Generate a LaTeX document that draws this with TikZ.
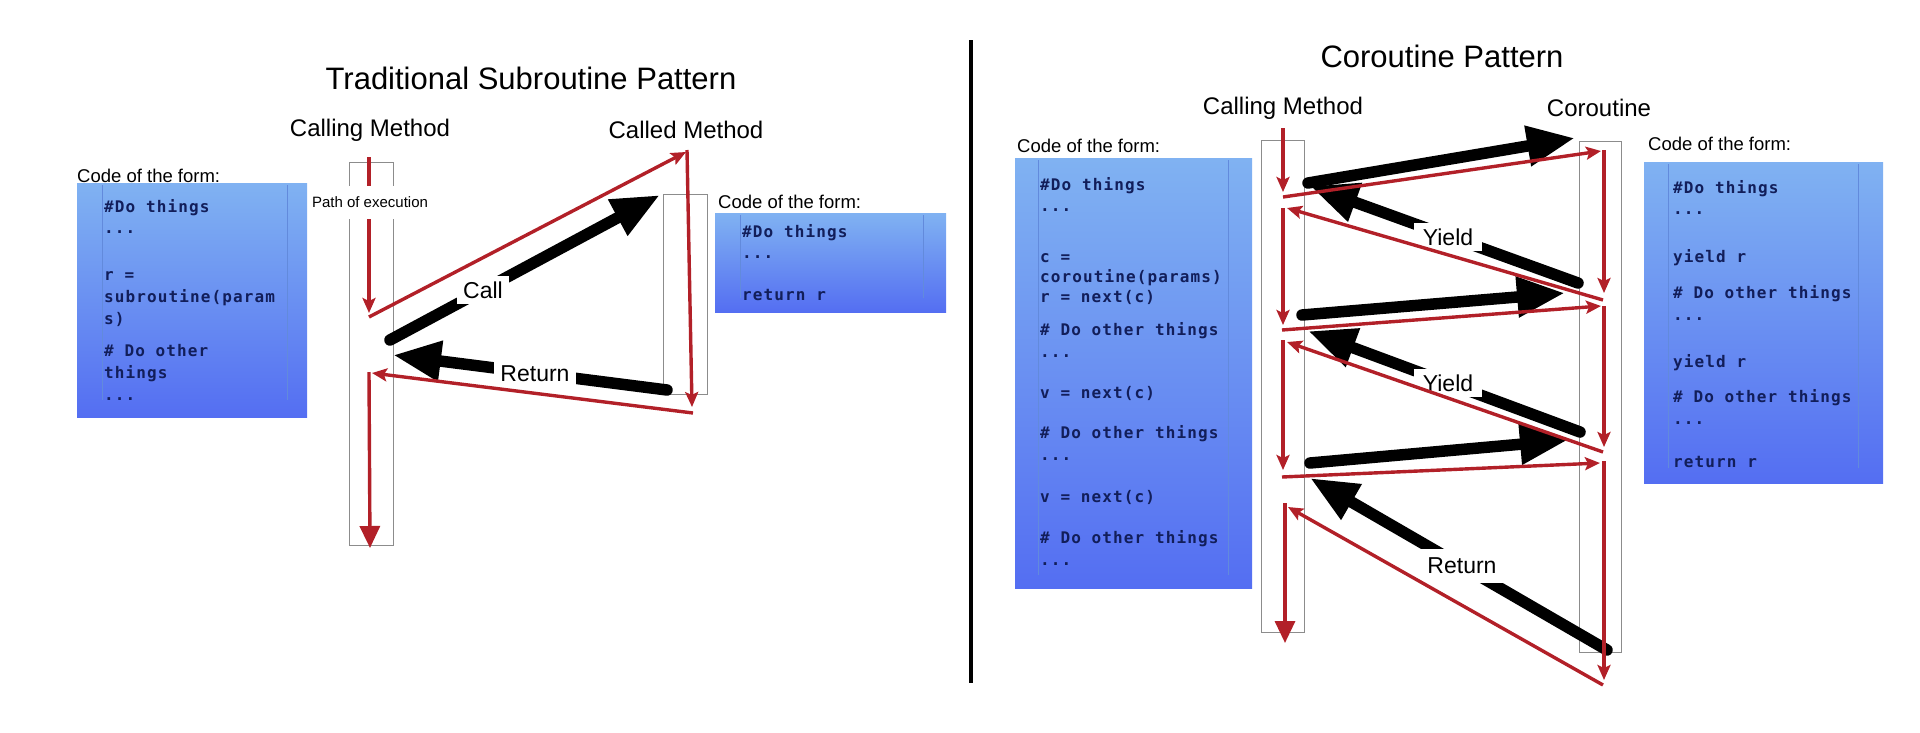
\documentclass[tikz,border=0pt]{standalone}
\usepackage{fontspec}
\setmainfont{Liberation Sans}
\newfontfamily\codefont{DejaVu Sans Mono}[LetterSpace=7]
\usetikzlibrary{arrows.meta}

\definecolor{rd}{RGB}{178,32,40}
\definecolor{codeblue}{RGB}{18,30,90}
\definecolor{boxtop}{RGB}{128,178,242}
\definecolor{boxbot}{RGB}{84,110,242}
\definecolor{cellline}{RGB}{98,138,220}
\definecolor{lanegray}{RGB}{140,140,140}

\tikzset{
  redarrow/.style={draw=rd, line width=3.4pt, -{Stealth[length=15pt,width=13pt,inset=3pt]}},
  redend/.style={draw=rd, line width=3.4pt, -{Triangle[length=22pt,width=20pt]}},
  bigarrow/.style={draw=black, line width=11.5pt, line cap=round, -{Triangle[length=48pt,width=38pt]}},
  lane/.style={draw=lanegray, line width=1pt, anchor=north west, inner sep=0pt},
  codebox/.style={anchor=north west, inner sep=0pt, top color=boxtop, bottom color=boxbot, draw=none},
  cellrule/.style={draw=cellline, line width=1pt},
  heading/.style={font=\fontsize{31}{37}\selectfont},
  colhead/.style={font=\fontsize{24}{29}\selectfont},
  arrowlabel/.style={font=\fontsize{23}{28}\selectfont, fill=white, inner xsep=6pt, inner ysep=6pt},
  formlabel/.style={font=\fontsize{18.5}{22}\selectfont, anchor=base west, inner sep=0pt},
  codeline/.style={font=\codefont\bfseries\fontsize{16}{19}\selectfont, text=codeblue, anchor=base west, inner sep=0pt},
  pathlabel/.style={font=\fontsize{15}{18}\selectfont, fill=white, inner xsep=2pt, minimum height=33pt},
  sep/.style={draw=black, line width=4pt}
}

\begin{document}
\begin{tikzpicture}[x=1pt,y=-1pt]
\useasboundingbox (0,0) rectangle (1920,732);

% ---------------- LEFT PANEL ----------------
\node[heading] (ltitle) at (531,78) {Traditional Subroutine Pattern};
\node[colhead] (lcallhead) at (370,130) {Calling Method};
\node[colhead] (lcalledhead) at (686,130) {Called Method};

% code box (calling)
\node[formlabel] (lform) at (77,182) {Code of the form:};
\node[codebox, minimum width=230pt, minimum height=234pt] (lbox) at (77,183) {};
\draw[cellrule] (102,185) -- (102,400);
\draw[cellrule] (287,185) -- (287,400);
\node[codeline] (l1) at (104,212) {\#Do things};
\node[codeline] (l2) at (104,233) {...};
\node[codeline] (l3) at (104,280) {r =};
\node[codeline] (l4) at (104,302) {subroutine(param};
\node[codeline] (l5) at (104,324) {s)};
\node[codeline] (l6) at (104,356) {\# Do other};
\node[codeline] (l7) at (104,378) {things};
\node[codeline] (l8) at (104,400) {...};

% code box (called)
\node[formlabel] (rform0) at (718,208) {Code of the form:};
\node[codebox, minimum width=231pt, minimum height=99pt] (cbox) at (715,213) {};
\draw[cellrule] (740,215) -- (740,298);
\draw[cellrule] (923,215) -- (923,298);
\node[codeline] (c1) at (742,237) {\#Do things};
\node[codeline] (c2) at (742,258) {...};
\node[codeline] (c3) at (742,300) {return r};

% lanes
\node[lane, minimum width=44pt, minimum height=383pt] (lcall) at (349,162) {};
\node[lane, minimum width=44pt, minimum height=200pt] (lcalled) at (663,194) {};

% black arrows
\coordinate (callS) at (390,340);
\coordinate (callE) at (660,195);
\coordinate (retS) at (667,390);
\coordinate (retE) at (393,355);
\draw[bigarrow] (callS) -- (callE);
\draw[bigarrow] (retS) -- (retE);
\node[arrowlabel] (calllab) at (483,290) {Call};
\node[arrowlabel] (retlab) at (535,374) {Return};

% red path
\coordinate (a0) at (369,157);
\coordinate (a1) at (369,313);
\coordinate (a2) at (369,317);
\coordinate (a3) at (686,152);
\coordinate (a3v) at (687,150);
\coordinate (a4) at (692,407);
\coordinate (a5) at (693,413);
\coordinate (a6) at (372,373);
\coordinate (a6v) at (369,372);
\coordinate (a7) at (370,548);
\draw[redarrow] (a0) -- (a1);
\draw[redarrow] (a2) -- (a3);
\draw[redarrow] (a3v) -- (a4);
\draw[redarrow] (a5) -- (a6);
\draw[redend] (a6v) -- (a7);
\node[pathlabel] (pathlab) at (370,202) {Path of execution};

% separator
\coordinate (sepT) at (971,40);
\coordinate (sepB) at (971,683);
\draw[sep] (sepT) -- (sepB);

% ---------------- RIGHT PANEL ----------------
\node[heading] (rtitle) at (1442,56) {Coroutine Pattern};
\node[colhead] (rcallhead) at (1283,108) {Calling Method};
\node[colhead] (cohead) at (1599,108) {Coroutine};

% calling code
\node[formlabel] (rform1) at (1017,152) {Code of the form:};
\node[codebox, minimum width=237pt, minimum height=430pt] (rbox) at (1015,158) {};
\draw[cellrule] (1038,160) -- (1038,575);
\draw[cellrule] (1228,160) -- (1228,575);
\node[codeline] (r1) at (1040,190) {\#Do things};
\node[codeline] (r2) at (1040,211) {...};
\node[codeline] (r3) at (1040,262) {c =};
\node[codeline] (r4) at (1040,282) {coroutine(params)};
\node[codeline] (r5) at (1040,302) {r = next(c)};
\node[codeline] (r6) at (1040,335) {\# Do other things};
\node[codeline] (r7) at (1040,357) {...};
\node[codeline] (r8) at (1040,398) {v = next(c)};
\node[codeline] (r9) at (1040,438) {\# Do other things};
\node[codeline] (r10) at (1040,460) {...};
\node[codeline] (r11) at (1040,502) {v = next(c)};
\node[codeline] (r12) at (1040,543) {\# Do other things};
\node[codeline] (r13) at (1040,565) {...};

% coroutine code
\node[formlabel] (rform2) at (1648,150) {Code of the form:};
\node[codebox, minimum width=239pt, minimum height=321pt] (kbox) at (1644,162) {};
\draw[cellrule] (1668,164) -- (1668,468);
\draw[cellrule] (1858,164) -- (1858,468);
\node[codeline] (k1) at (1673,193) {\#Do things};
\node[codeline] (k2) at (1673,214) {...};
\node[codeline] (k3) at (1673,262) {yield r};
\node[codeline] (k4) at (1673,298) {\# Do other things};
\node[codeline] (k5) at (1673,320) {...};
\node[codeline] (k6) at (1673,367) {yield r};
\node[codeline] (k7) at (1673,402) {\# Do other things};
\node[codeline] (k8) at (1673,424) {...};
\node[codeline] (k9) at (1673,467) {return r};

% lanes
\node[lane, minimum width=43pt, minimum height=492pt] (rcall) at (1261,140) {};
\node[lane, minimum width=42pt, minimum height=511pt] (rco) at (1579,141) {};

% black arrows
\coordinate (k1S) at (1308,183);
\coordinate (k1E) at (1575,138);
\coordinate (y1S) at (1578,283);
\coordinate (y1E) at (1310,186);
\coordinate (k2S) at (1302,315);
\coordinate (k2E) at (1565,293);
\coordinate (y2S) at (1580,432);
\coordinate (y2E) at (1308,331);
\coordinate (k3S) at (1310,463);
\coordinate (k3E) at (1568,440);
\coordinate (rrS) at (1607,650);
\coordinate (rrE) at (1310,478);
\draw[bigarrow] (k1S) -- (k1E);
\draw[bigarrow] (y1S) -- (y1E);
\draw[bigarrow] (k2S) -- (k2E);
\draw[bigarrow] (y2S) -- (y2E);
\draw[bigarrow] (k3S) -- (k3E);
\draw[bigarrow] (rrS) -- (rrE);
\node[arrowlabel, inner xsep=9pt] (y1lab) at (1448,237) {Yield};
\node[arrowlabel, inner xsep=9pt] (y2lab) at (1448,383) {Yield};
\node[arrowlabel, inner ysep=9pt] (rrlab) at (1462,566) {Return};

% red path
\coordinate (b0) at (1283,128);
\coordinate (b1) at (1283,192);
\coordinate (b2) at (1283,197);
\coordinate (b3) at (1601,151);
\coordinate (b3v) at (1604,150);
\coordinate (b4) at (1604,293);
\coordinate (b5) at (1603,300);
\coordinate (b6) at (1287,208);
\coordinate (b6v) at (1283,208);
\coordinate (b7) at (1283,325);
\coordinate (b8) at (1282,330);
\coordinate (b9) at (1601,306);
\coordinate (b9v) at (1604,306);
\coordinate (b10) at (1604,447);
\coordinate (b11) at (1603,452);
\coordinate (b12) at (1287,342);
\coordinate (b12v) at (1283,340);
\coordinate (b13) at (1283,470);
\coordinate (b14) at (1282,477);
\coordinate (b15) at (1600,463);
\coordinate (b15v) at (1604,461);
\coordinate (b16) at (1604,680);
\coordinate (b17) at (1603,685);
\coordinate (b18) at (1288,507);
\coordinate (b18v) at (1285,503);
\coordinate (b19) at (1285,643);
\draw[redarrow] (b0) -- (b1);
\draw[redarrow] (b2) -- (b3);
\draw[redarrow] (b3v) -- (b4);
\draw[redarrow] (b5) -- (b6);
\draw[redarrow] (b6v) -- (b7);
\draw[redarrow] (b8) -- (b9);
\draw[redarrow] (b9v) -- (b10);
\draw[redarrow] (b11) -- (b12);
\draw[redarrow] (b12v) -- (b13);
\draw[redarrow] (b14) -- (b15);
\draw[redarrow] (b15v) -- (b16);
\draw[redarrow] (b17) -- (b18);
\draw[redend] (b18v) -- (b19);
\end{tikzpicture}
\end{document}
